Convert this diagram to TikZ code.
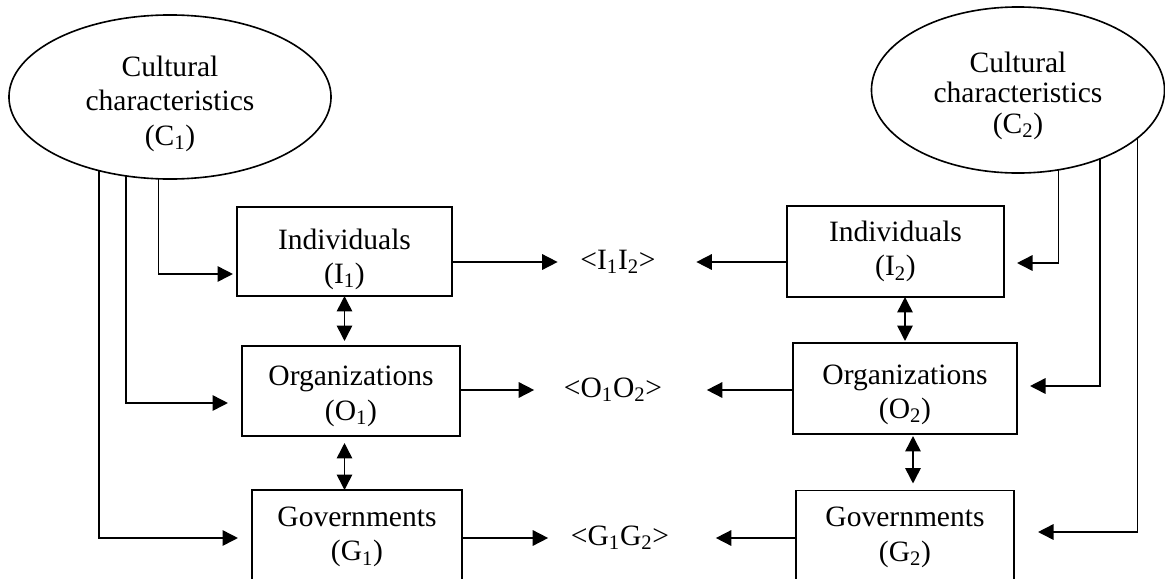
\documentclass[tikz,border=0pt]{standalone}
\usepackage{fontspec}
\setmainfont{Liberation Serif}
\usetikzlibrary{shapes.geometric,arrows.meta,calc}
\newcommand{\lift}[1]{\rule{0pt}{#1}}

\begin{document}
\begin{tikzpicture}[x=0.025cm, y=-0.025cm, line width=1.15pt, font=\fontsize{21}{24.5}\selectfont,
	cult/.style={ellipse, draw, inner sep=0pt, outer sep=0pt, align=center},
	lvl/.style={rectangle, draw, inner sep=0pt, outer sep=0pt, align=center},
	rel/.style={inner sep=0pt},
	arr/.style={-{Triangle[length=11pt, width=11pt]}},
	dbl/.style={{Triangle[length=11pt, width=11pt]}-{Triangle[length=11pt, width=11pt]}}]
		\useasboundingbox (0,0) rectangle (1165,579); \clip (0,0) rectangle (1165,579);

		\node[cult, minimum width=8.05cm, minimum height=4.1cm] (C1) at (170,97) {\lift{0.85cm}Cultural\\characteristics\\(C\textsubscript{1})};
		\node[cult, minimum width=7.325cm, minimum height=4.15cm, font=\fontsize{21}{21.5}\selectfont] (C2) at (1018,90) {\lift{0.8cm}Cultural\\characteristics\\(C\textsubscript{2})};

		\node[lvl, minimum width=5.375cm, minimum height=2.225cm] (I1) at (344.5,251.5) {\lift{0.9cm}Individuals\\(I\textsubscript{1})};
		\node[lvl, minimum width=5.45cm, minimum height=2.25cm] (O1) at (351,391) {\lift{0.75cm}Organizations\\(O\textsubscript{1})};
		\node[lvl, minimum width=5.25cm, minimum height=2.35cm] (G1) at (357,537) {Governments\\(G\textsubscript{1})};
		\node[lvl, minimum width=5.425cm, minimum height=2.275cm] (I2) at (895.5,251.5) {Individuals\\(I\textsubscript{2})};
		\node[lvl, minimum width=5.6cm, minimum height=2.275cm] (O2) at (905,388.5) {\lift{0.8cm}Organizations\\(O\textsubscript{2})};
		\node[lvl, minimum width=5.45cm, minimum height=2.35cm] (G2) at (905,537.5) {Governments\\(G\textsubscript{2})};

		\node[rel] (I12) at (618,262) {<I\textsubscript{1}I\textsubscript{2}>};
		\node[rel] (O12) at (613,390) {<O\textsubscript{1}O\textsubscript{2}>};
		\node[rel] (G12) at (620,538) {<G\textsubscript{1}G\textsubscript{2}>};

		% culture feeds
		\draw[arr] (C1.-98) |- ($(I1.west)+(-4,22.5)$); \draw[arr] (C1.-119) |- ($(O1.west)+(-14,12)$); \draw[arr] (C1.-134.5) |- ($(G1.west)+(-14,1)$);
		\draw[arr] (C2.-63.4) |- ($(I2.east)+(13,11.5)$); \draw[arr] (C2.-40) |- ($(O2.east)+(13,-2.5)$); \draw[arr] (C2.-22) |- ($(G2.east)+(24,-5.5)$);

		% relations
		\draw[arr, shorten >=0.55cm] (I1.east |- I12) -- (I12.west); \draw[arr, shorten >=1cm] (I2.west |- I12) -- (I12.east);
		\draw[arr, shorten >=0.725cm] (O1.east |- O12) -- (O12.west); \draw[arr, shorten >=1.1cm] (O2.west |- O12) -- (O12.east);
		\draw[arr, shorten >=0.55cm] (G1.east |- G12) -- (G12.west); \draw[arr, shorten >=1.15cm] (G2.west |- G12) -- (G12.east);

		% levels
		\draw[dbl, shorten >=0.125cm] (I1.south) -- (I1.south |- O1.north); \draw[dbl, shorten <=0.175cm] (I1.south |- O1.south) -- (I1.south |- G1.north);
		\draw[dbl, shorten >=0.05cm] (O2.north |- I2.south) -- (O2.north); \draw[dbl, shorten <=0.05cm, shorten >=0.175cm] ($(O2.south)+(8,0)$) -- ($(G2.north)+(8,0)$);
	\end{tikzpicture}
\end{document}
